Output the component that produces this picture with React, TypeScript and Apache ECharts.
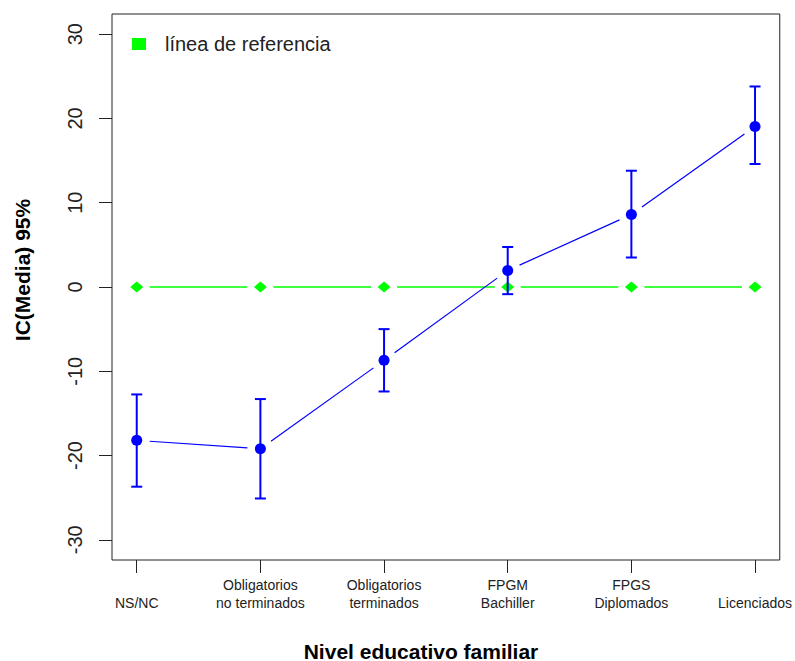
import React, { useEffect, useRef } from "react";
import * as echarts from "echarts";

const categories = [
  "\nNS/NC",
  "Obligatorios\nno terminados",
  "Obligatorios\nterminados",
  "FPGM\nBachiller",
  "FPGS\nDiplomados",
  "\nLicenciados",
];
const means = [-18.2, -19.2, -8.7, 1.96, 8.6, 19.05];
const lower = [-23.7, -25.1, -12.4, -0.85, 3.5, 14.6];
const upper = [-12.75, -13.3, -5.0, 4.75, 13.8, 23.8];
const reference = [0, 0, 0, 0, 0, 0];
const yTicks = [-30, -20, -10, 0, 10, 20, 30];
const legendName = "línea de referencia";

const BLUE = "#0000ff";
const GREEN = "#00ff00";
const FONT = "Liberation Sans, Arial, sans-serif";
const GAP = 13;

function segmentRenderer(color: string, width: number) {
  return (params: any, api: any) => {
    const x = api.value(0);
    const p1 = api.coord([x, api.value(1)]);
    const p2 = api.coord([x + 1, api.value(2)]);
    const dx = p2[0] - p1[0];
    const dy = p2[1] - p1[1];
    const len = Math.sqrt(dx * dx + dy * dy);
    if (len <= 2 * GAP) return null;
    const ux = dx / len;
    const uy = dy / len;
    return {
      type: "line",
      shape: {
        x1: p1[0] + ux * GAP,
        y1: p1[1] + uy * GAP,
        x2: p2[0] - ux * GAP,
        y2: p2[1] - uy * GAP,
      },
      style: { stroke: color, lineWidth: width },
    };
  };
}

export default function App() {
  const ref = useRef<HTMLDivElement>(null);
  useEffect(() => {
    document.body.style.margin = "0";
    if (!ref.current) return;
    const chart = echarts.init(ref.current, undefined, { renderer: "svg" });
    const idx = categories.map((_, i) => i);
    const segData = (vals: number[]) =>
      vals.slice(0, -1).map((v, i) => [i, v, vals[i + 1]]);
    const option: any = {
      animation: false,
      backgroundColor: "#ffffff",
      grid: {
        left: 112,
        right: 13,
        top: 14,
        bottom: 101,
        show: true,
        borderColor: "#222",
        borderWidth: 1,
        backgroundColor: "transparent",
      },
      legend: {
        data: [legendName],
        left: 132,
        top: 34,
        padding: 0,
        icon: "rect",
        itemWidth: 14,
        itemHeight: 12,
        selectedMode: false,
        textStyle: {
          fontFamily: FONT,
          fontSize: 20,
          color: "#222",
          padding: [2, 0, 0, 14],
        },
      },
      xAxis: {
        type: "value",
        min: -0.2,
        max: 5.2,
        splitLine: { show: false },
        axisLine: { show: false, onZero: false },
        axisTick: {
          show: true,
          customValues: idx,
          length: 13,
          lineStyle: { color: "#222", width: 1 },
        },
        axisLabel: {
          show: true,
          customValues: idx,
          formatter: (v: number) => categories[Math.round(v)] ?? "",
          fontFamily: FONT,
          fontSize: 14,
          lineHeight: 18,
          color: "#222",
          margin: 16,
        },
      },
      yAxis: {
        type: "value",
        min: -32.4,
        max: 32.4,
        splitLine: { show: false },
        axisLine: { show: false, onZero: false },
        axisTick: {
          show: true,
          customValues: yTicks,
          length: 13,
          lineStyle: { color: "#222", width: 1 },
        },
        axisLabel: {
          show: true,
          customValues: yTicks,
          rotate: 90,
          fontFamily: FONT,
          fontSize: 20,
          color: "#222",
          margin: 27,
        },
      },
      graphic: [
        {
          type: "text",
          x: 22,
          y: 270,
          rotation: Math.PI / 2,
          style: {
            text: "IC(Media) 95%",
            fontFamily: FONT,
            fontSize: 21,
            fontWeight: "bold",
            fill: "#000",
            align: "center",
            verticalAlign: "middle",
          },
        },
        {
          type: "text",
          x: 421,
          y: 651,
          style: {
            text: "Nivel educativo familiar",
            fontFamily: FONT,
            fontSize: 21,
            fontWeight: "bold",
            fill: "#000",
            align: "center",
            verticalAlign: "middle",
          },
        },
      ],
      series: [
        {
          type: "custom",
          name: "ref-line",
          renderItem: segmentRenderer(GREEN, 1.5),
          data: segData(reference),
          encode: { x: 0, y: [1, 2] },
          silent: true,
          z: 2,
        },
        {
          type: "scatter",
          name: legendName,
          data: reference.map((v, i) => [i, v]),
          symbol: "diamond",
          symbolSize: [13, 11],
          itemStyle: { color: GREEN, opacity: 1 },
          z: 3,
        },
        {
          type: "custom",
          name: "errorbars",
          renderItem: (params: any, api: any) => {
            const x = api.value(0);
            const lo = api.coord([x, api.value(1)]);
            const hi = api.coord([x, api.value(2)]);
            const hw = 5.5;
            const style = { stroke: BLUE, lineWidth: 2 };
            return {
              type: "group",
              children: [
                { type: "line", shape: { x1: lo[0], y1: lo[1], x2: hi[0], y2: hi[1] }, style },
                { type: "line", shape: { x1: lo[0] - hw, y1: lo[1], x2: lo[0] + hw, y2: lo[1] }, style },
                { type: "line", shape: { x1: hi[0] - hw, y1: hi[1], x2: hi[0] + hw, y2: hi[1] }, style },
              ],
            };
          },
          data: idx.map((i) => [i, lower[i], upper[i]]),
          encode: { x: 0, y: [1, 2] },
          silent: true,
          z: 4,
        },
        {
          type: "custom",
          name: "mean-line",
          renderItem: segmentRenderer(BLUE, 1.2),
          data: segData(means),
          encode: { x: 0, y: [1, 2] },
          silent: true,
          z: 4,
        },
        {
          type: "scatter",
          name: "media",
          data: means.map((v, i) => [i, v]),
          symbol: "circle",
          symbolSize: 11,
          itemStyle: { color: BLUE, opacity: 1 },
          z: 5,
        },
      ],
    };
    chart.setOption(option);
    return () => chart.dispose();
  }, []);
  return <div ref={ref} style={{ width: 795, height: 661 }} />;
}
